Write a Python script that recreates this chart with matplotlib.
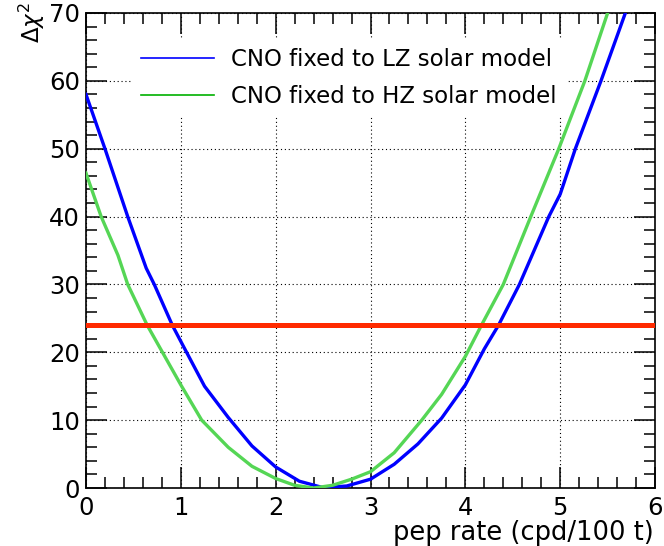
import numpy as np
import matplotlib
matplotlib.use("Agg")
import matplotlib.pyplot as plt
from matplotlib.lines import Line2D
from matplotlib.ticker import MultipleLocator

plt.rcParams.update({"font.family": ["DejaVu Sans"], "font.size": 17.5,
                     "mathtext.fontset": "dejavusans"})

# values
lz_x = [0, 0.2, 0.44, 0.635, 0.72, 0.91, 1.0, 1.25, 1.5, 1.75, 2.0, 2.25, 2.5, 2.75, 3.0,
        3.25, 3.5, 3.75, 4.0, 4.2, 4.35, 4.57, 4.88, 5.0, 5.16, 5.43, 5.7]
lz_y = [58, 50, 40, 32.4, 30, 24, 21.6, 15.0, 10.4, 6.2, 3.1, 1.0, 0.05, 0.3, 1.3,
        3.5, 6.5, 10.3, 15.2, 20.5, 24, 30, 40, 43.3, 50, 60, 70.5]
hz_x = [0, 0.16, 0.337, 0.44, 0.645, 1.0, 1.22, 1.5, 1.75, 2.0, 2.2, 2.4, 2.6, 2.8, 3.0,
        3.25, 3.54, 3.75, 4.0, 4.17, 4.4, 4.69, 4.985, 5.26, 5.5]
hz_y = [46.4, 40, 34.3, 30, 24, 15.2, 10, 6.0, 3.2, 1.4, 0.4, 0.0, 0.4, 1.3, 2.4,
        5.2, 10, 13.8, 19.4, 24, 30, 40, 50, 60, 70]
threshold = 24
labels = ["CNO fixed to LZ solar model", "CNO fixed to HZ solar model"]

fig = plt.figure(figsize=(6.64, 5.46), dpi=100)
ax = fig.add_axes([0.1295, 0.1062, 0.857, 0.870])

ax.plot(lz_x, lz_y, color="#0000ff", lw=2.4, zorder=3)
ax.plot(hz_x, hz_y, color="#55d655", lw=2.4, zorder=3)
ax.axhline(threshold, color="#ff2a00", lw=3.6, zorder=4)

ax.set_xlim(0, 6); ax.set_ylim(0, 70)
ax.xaxis.set_major_locator(MultipleLocator(1)); ax.xaxis.set_minor_locator(MultipleLocator(0.2))
ax.yaxis.set_major_locator(MultipleLocator(10)); ax.yaxis.set_minor_locator(MultipleLocator(2))
ax.tick_params(which="both", direction="in", top=True, right=True, width=1.1)
ax.tick_params(which="major", length=15)
ax.tick_params(which="minor", length=8)
ax.tick_params(axis="x", pad=5.5)
ax.tick_params(axis="y", pad=4.3)
ax.grid(True, which="major", color="black", ls=(0, (1, 2.5)), lw=0.8)
for s in ax.spines.values():
    s.set_linewidth(1.2)

ax.set_xlabel("pep rate (cpd/100 t)", loc="right", fontsize=18.5, va="top")
ax.xaxis.set_label_coords(0.997, -0.067)
fig.text(17 / 664, 1 - 2 / 546, r"$\Delta\chi^{2}$", rotation=90, ha="left", va="top",
         fontsize=16.5)

handles = [Line2D([], [], color="#0000ff", lw=1.2), Line2D([], [], color="#00b000", lw=1.2)]
leg = ax.legend(handles, labels, loc="upper left", bbox_to_anchor=(0.06, 0.97),
                frameon=True, fancybox=False, framealpha=1, edgecolor="none", fontsize=16.5,
                handlelength=3.2, handletextpad=0.75, labelspacing=0.6, borderpad=0.4)
leg.set_zorder(5)

fig.savefig("out.png", dpi=100)
